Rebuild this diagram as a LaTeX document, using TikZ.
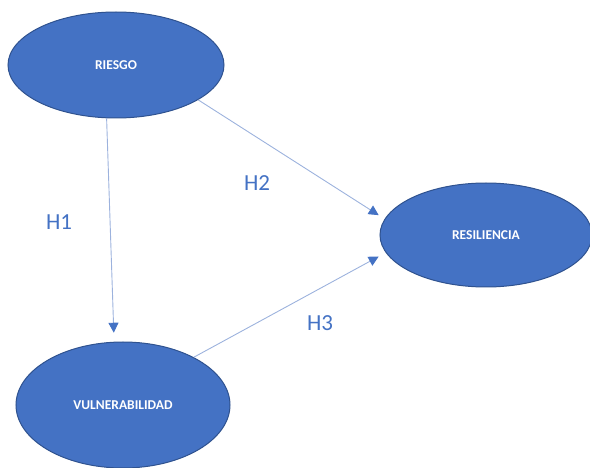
\documentclass[tikz,border=0pt]{standalone}
\usepackage{fontspec}
\setmainfont{Carlito}
\usetikzlibrary{shapes.geometric,arrows.meta}
\definecolor{nodefill}{HTML}{4472C4}
\definecolor{nodeedge}{HTML}{2F528F}
\definecolor{linecol}{HTML}{9CB2DD}
\tikzset{
  oval/.style={ellipse, draw=nodeedge, fill=nodefill, line width=1pt, inner sep=0pt,
    text=white, font=\bfseries\fontsize{13.5}{15}\selectfont},
  conn/.style={draw=linecol, line width=0.9pt,
    -{Triangle[length=10pt,width=10pt,fill=nodefill,color=nodefill]}},
  hlabel/.style={text=nodefill, font=\fontsize{23}{26}\selectfont}
}
\begin{document}
\begin{tikzpicture}[x=1pt,y=-1pt]
\useasboundingbox (0,0) rectangle (590,468);
\node[oval, minimum width=216pt, minimum height=106pt] (r) at (116,65) {RIESGO};
\node[oval, minimum width=212pt, minimum height=104pt] (s) at (486,235) {RESILIENCIA};
\node[oval, minimum width=214pt, minimum height=126pt] (v) at (123,405) {VULNERABILIDAD};
\draw[conn, shorten >=9pt] (r.260) -- (v.98);
\draw[conn, shorten >=7pt] (r.337) -- (s.171);
\draw[conn, shorten >=8pt] (v.34) -- (s.190);
\node[hlabel] (h1) at (59,222) {H1};
\node[hlabel] (h2) at (257,183) {H2};
\node[hlabel] (h3) at (320,323) {H3};
\end{tikzpicture}
\end{document}
